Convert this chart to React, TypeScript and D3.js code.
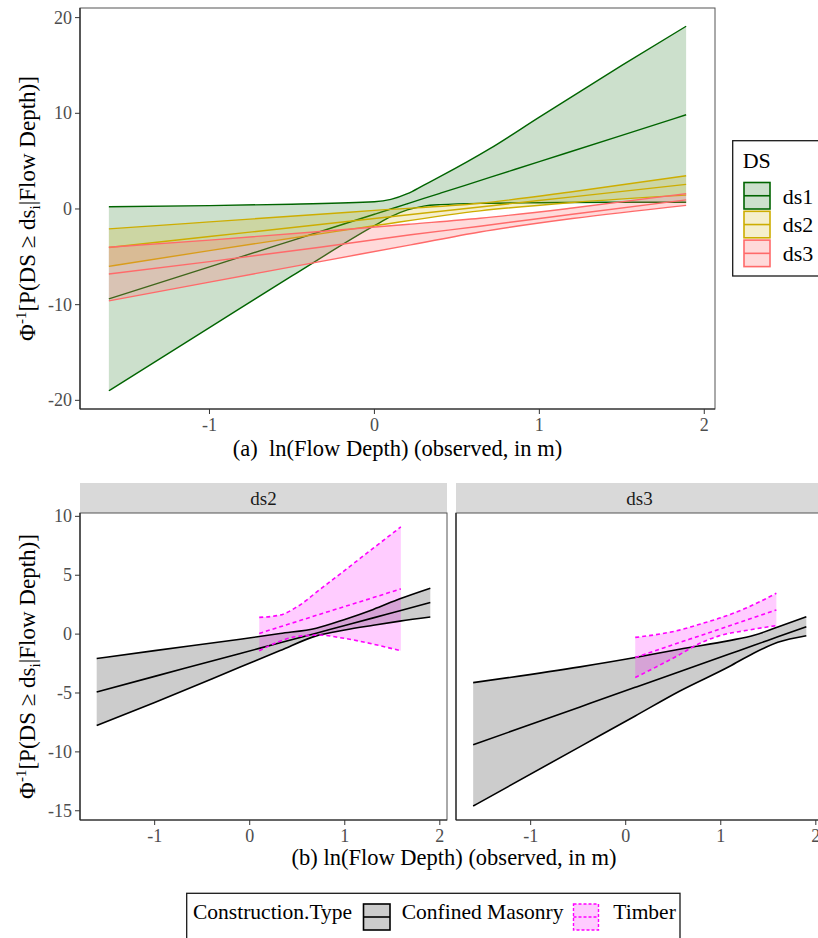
import React from 'react';
import * as d3 from 'd3';

const W = 818;
const H = 938;
const FONT = '"Liberation Serif","Times New Roman",Times,serif';

// ---------- (a) top panel: DS bands ----------
const dsNames = ['ds1', 'ds2', 'ds3'];
const dsColors = ['#006400', '#CDAD00', '#FF6A6A'];
const dsFillOpacity = [0.2, 0.2, 0.25];

const ds1X = [-1.61, -1.0, -0.5, 0.0, 0.1, 0.2, 0.3, 0.4, 0.7, 1.0, 1.5, 1.89];
const ds1Hi = [0.24, 0.35, 0.5, 0.75, 1.0, 1.6, 2.5, 3.4, 6.3, 9.6, 15.0, 19.1];
const ds1Mid = [-9.4, -6.05, -3.3, -0.55, 0.0, 0.55, 1.1, 1.65, 3.3, 4.95, 7.7, 9.85];
const ds1Lo = [-19.0, -12.4, -7.0, -1.75, -0.8, -0.1, 0.3, 0.45, 0.6, 0.65, 0.7, 0.7];

const ds2X = [-1.61, -1.0, -0.33, 0.0, 0.64, 1.2, 1.89];
const ds2Hi = [-2.08, -1.35, -0.55, -0.15, 0.6, 1.8, 3.47];
const ds2Mid = [-4.03, -2.88, -1.62, -0.99, 0.21, 1.27, 2.57];
const ds2Lo = [-6.0, -4.35, -2.6, -1.75, -0.2, 0.68, 1.45];

const ds3X = [-1.61, -1.0, -0.33, 0.22, 0.64, 1.2, 1.89];
const ds3Hi = [-4.0, -3.25, -2.36, -1.58, -0.97, 0.1, 1.6];
const ds3Mid = [-6.8, -5.5, -4.0, -2.7, -1.8, -0.55, 0.95];
const ds3Lo = [-9.6, -7.65, -5.5, -3.75, -2.4, -1.0, 0.38];

const topXTicks = [-1, 0, 1, 2];
const topYTicks = [-20, -10, 0, 10, 20];

// ---------- (b) bottom panels: construction type ----------
const facetNames = ['ds2', 'ds3'];
const typeNames = ['Confined Masonry', 'Timber'];

const cm2X = [-1.61, -1.0, -0.1, 0.32, 0.7, 1.0, 1.3, 1.58, 1.9];
const cm2Hi = [-2.07, -1.4, -0.43, 0.05, 0.5, 1.25, 2.1, 3.0, 3.9];
const cm2Mid = [-4.91, -3.59, -1.64, -0.74, 0.08, 0.73, 1.38, 1.98, 2.68];
const cm2Lo = [-7.76, -5.8, -2.8, -1.4, -0.15, 0.35, 0.75, 1.1, 1.45];

const tb2X = [0.1, 0.32, 0.5, 0.74, 0.95, 1.3, 1.59];
const tb2Hi = [1.42, 1.62, 2.33, 3.8, 5.1, 7.3, 9.1];
const tb2Mid = [0.06, 0.62, 1.08, 1.69, 2.22, 3.1, 3.84];
const tb2Lo = [-1.42, -0.6, -0.2, -0.08, -0.3, -0.85, -1.42];

const cm3X = [-1.605, -0.48, 0.1, 0.565, 1.09, 1.35, 1.6, 1.9];
const cm3Hi = [-4.12, -2.78, -1.99, -1.28, -0.55, -0.1, 0.6, 1.48];
const cm3Mid = [-9.4, -6.18, -4.52, -3.19, -1.69, -0.95, -0.23, 0.63];
const cm3Lo = [-14.6, -9.55, -6.95, -4.85, -2.75, -1.6, -0.7, -0.14];

const tb3X = [0.1, 0.39, 0.565, 0.74, 0.98, 1.26, 1.585];
const tb3Hi = [-0.28, 0.05, 0.34, 0.75, 1.34, 2.19, 3.47];
const tb3Mid = [-1.99, -1.2, -0.72, -0.25, 0.4, 1.17, 2.05];
const tb3Lo = [-3.69, -2.5, -1.75, -0.94, -0.15, 0.3, 0.72];

const botXTicks = [-1, 0, 1, 2];
const botYTicks = [-15, -10, -5, 0, 5, 10];

type Band = { x: number[]; lo: number[]; mid: number[]; hi: number[] };

const topBands: Band[] = [
  { x: ds1X, lo: ds1Lo, mid: ds1Mid, hi: ds1Hi },
  { x: ds2X, lo: ds2Lo, mid: ds2Mid, hi: ds2Hi },
  { x: ds3X, lo: ds3Lo, mid: ds3Mid, hi: ds3Hi },
];
const botBands: Band[][] = [
  [
    { x: cm2X, lo: cm2Lo, mid: cm2Mid, hi: cm2Hi },
    { x: tb2X, lo: tb2Lo, mid: tb2Mid, hi: tb2Hi },
  ],
  [
    { x: cm3X, lo: cm3Lo, mid: cm3Mid, hi: cm3Hi },
    { x: tb3X, lo: tb3Lo, mid: tb3Mid, hi: tb3Hi },
  ],
];

const typeLine = ['#000000', '#FF00FF'];
const typeFill = ['#000000', '#FF00FF'];
const typeDash = [undefined, '4,3'];

function expand(lo: number, hi: number): [number, number] {
  const d = (hi - lo) * 0.05;
  return [lo - d, hi + d];
}

function bandExtentX(bs: Band[]): [number, number] {
  const all = bs.flatMap((b) => b.x);
  return [d3.min(all) as number, d3.max(all) as number];
}
function bandExtentY(bs: Band[]): [number, number] {
  const all = bs.flatMap((b) => [...b.lo, ...b.hi]);
  return [d3.min(all) as number, d3.max(all) as number];
}

const TICK = '#4D4D4D';

function BandMarks({
  b, sx, sy, stroke, fill, fillOpacity, dash, width,
}: {
  b: Band; sx: d3.ScaleLinear<number, number>; sy: d3.ScaleLinear<number, number>;
  stroke: string; fill: string; fillOpacity: number; dash?: string; width: number;
}) {
  const area = d3
    .area<number>()
    .x((_, i) => sx(b.x[i]))
    .y0((_, i) => sy(b.lo[i]))
    .y1((_, i) => sy(b.hi[i]))
    .curve(d3.curveMonotoneX);
  const line = d3
    .line<number>()
    .x((_, i) => sx(b.x[i]))
    .y((d) => sy(d))
    .curve(d3.curveMonotoneX);
  return (
    <g>
      <path d={area(b.x) || ''} fill={fill} fillOpacity={fillOpacity} stroke="none" />
      {[b.lo, b.mid, b.hi].map((arr, k) => (
        <path key={k} d={line(arr) || ''} fill="none" stroke={stroke} strokeWidth={width} strokeDasharray={dash} />
      ))}
    </g>
  );
}

function PanelFrame({ x0, x1, y0, y1, sx, sy, xTicks, yTicks, showY }: any) {
  return (
    <g>
      <rect x={x0} y={y0} width={x1 - x0} height={y1 - y0} fill="none" stroke="#555" strokeWidth={1} />
      <line x1={x0} x2={x0} y1={y0} y2={y1} stroke="#222" strokeWidth={1.2} />
      <line x1={x0} x2={x1} y1={y1} y2={y1} stroke="#222" strokeWidth={1.2} />
      {xTicks.map((t: number) => (
        <g key={'x' + t}>
          <line x1={sx(t)} x2={sx(t)} y1={y1} y2={y1 + 5} stroke="#333" strokeWidth={1} />
          <text x={sx(t)} y={y1 + 22} textAnchor="middle" fontSize={18} fill={TICK} fontFamily={FONT}>
            {t < 0 ? '-' + Math.abs(t) : String(t)}
          </text>
        </g>
      ))}
      {showY &&
        yTicks.map((t: number) => (
          <g key={'y' + t}>
            <line x1={x0 - 5} x2={x0} y1={sy(t)} y2={sy(t)} stroke="#333" strokeWidth={1} />
            <text x={x0 - 8} y={sy(t) + 6} textAnchor="end" fontSize={18} fill={TICK} fontFamily={FONT}>
              {t < 0 ? '-' + Math.abs(t) : String(t)}
            </text>
          </g>
        ))}
    </g>
  );
}

function YTitle({ cx, cy }: { cx: number; cy: number }) {
  return (
    <text transform={`translate(${cx},${cy}) rotate(-90)`} textAnchor="middle" fontSize={23} fill="#000" fontFamily={FONT}>
      <tspan>Φ</tspan>
      <tspan fontSize={15} dy={-9}>-1</tspan>
      <tspan dy={9}>[P(DS ≥ ds</tspan>
      <tspan fontSize={15} dy={5}>i</tspan>
      <tspan dy={-5}>|Flow Depth)]</tspan>
    </text>
  );
}

export default function App() {
  // top scales
  const tPX0 = 80, tPX1 = 715, tPY0 = 8, tPY1 = 409;
  const tx = bandExtentX(topBands);
  const ty = bandExtentY(topBands);
  const sxTop = d3.scaleLinear().domain(expand(tx[0], tx[1])).range([tPX0, tPX1]);
  const syTop = d3.scaleLinear().domain(expand(ty[0], ty[1])).range([tPY1, tPY0]);

  // bottom scales
  const bPY0 = 513, bPY1 = 820;
  const panelsX = [
    [80, 447],
    [456, 823],
  ];
  const allBot = botBands.flat();
  const bx = bandExtentX(allBot);
  const by = bandExtentY(allBot);
  const syBot = d3.scaleLinear().domain(expand(by[0], by[1])).range([bPY1, bPY0]);

  return (
    <div style={{ position: 'absolute', left: 0, top: 0 }}>
      <svg width={W} height={H} viewBox={`0 0 ${W} ${H}`} style={{ display: 'block', background: '#fff' }}>
        <rect x={0} y={0} width={W} height={H} fill="#fff" />
        {/* ===== top panel ===== */}
        <rect x={tPX0} y={tPY0} width={tPX1 - tPX0} height={tPY1 - tPY0} fill="#fff" />
        {topBands.map((b, i) => (
          <BandMarks key={i} b={b} sx={sxTop} sy={syTop} stroke={dsColors[i]} fill={dsColors[i]} fillOpacity={dsFillOpacity[i]} width={1.4} />
        ))}
        <PanelFrame x0={tPX0} x1={tPX1} y0={tPY0} y1={tPY1} sx={sxTop} sy={syTop} xTicks={topXTicks} yTicks={topYTicks} showY />
        <text x={(tPX0 + tPX1) / 2} y={456} textAnchor="middle" fontSize={22.5} fontFamily={FONT} style={{ whiteSpace: 'pre' }}>
          {'(a)  ln(Flow Depth) (observed, in m)'}
        </text>
        <YTitle cx={35} cy={(tPY0 + tPY1) / 2} />

        {/* top legend */}
        <rect x={732.7} y={140.7} width={100} height={135.3} fill="#fff" stroke="#1a1a1a" strokeWidth={1.3} />
        <text x={742.7} y={168} fontSize={22} fontFamily={FONT}>DS</text>
        {dsNames.map((n, i) => {
          const ky = 182.5 + i * 28.8;
          return (
            <g key={n}>
              <rect x={744} y={ky} width={26} height={26.5} fill={dsColors[i]} fillOpacity={dsFillOpacity[i]} stroke={dsColors[i]} strokeWidth={1.6} />
              <line x1={744} x2={770} y1={ky + 13.25} y2={ky + 13.25} stroke={dsColors[i]} strokeWidth={1.6} />
              <text x={782.7} y={ky + 21} fontSize={22} fontFamily={FONT}>{n}</text>
            </g>
          );
        })}

        {/* ===== bottom facets ===== */}
        {facetNames.map((fname, f) => {
          const [x0, x1] = panelsX[f];
          const sx = d3.scaleLinear().domain(expand(bx[0], bx[1])).range([x0, x1]);
          return (
            <g key={fname}>
              <rect x={x0} y={483} width={x1 - x0} height={30} fill="#D9D9D9" />
              <text x={(x0 + x1) / 2} y={504.5} textAnchor="middle" fontSize={19} fill="#1a1a1a" fontFamily={FONT}>{fname}</text>
              <rect x={x0} y={bPY0} width={x1 - x0} height={bPY1 - bPY0} fill="#fff" />
              {botBands[f].map((b, k) => (
                <path
                  key={'a' + k}
                  d={
                    d3
                      .area<number>()
                      .x((_, i) => sx(b.x[i]))
                      .y0((_, i) => syBot(b.lo[i]))
                      .y1((_, i) => syBot(b.hi[i]))
                      .curve(d3.curveMonotoneX)(b.x) || ''
                  }
                  fill={typeFill[k]}
                  fillOpacity={0.2}
                />
              ))}
              {botBands[f].map((b, k) =>
                [b.lo, b.mid, b.hi].map((arr, j) => (
                  <path
                    key={'l' + k + j}
                    d={
                      d3
                        .line<number>()
                        .x((_, i) => sx(b.x[i]))
                        .y((d) => syBot(d))
                        .curve(d3.curveMonotoneX)(arr) || ''
                    }
                    fill="none"
                    stroke={typeLine[k]}
                    strokeWidth={1.6}
                    strokeDasharray={typeDash[k]}
                  />
                ))
              )}
              <PanelFrame x0={x0} x1={x1} y0={bPY0} y1={bPY1} sx={sx} sy={syBot} xTicks={botXTicks} yTicks={botYTicks} showY={f === 0} />
            </g>
          );
        })}
        <text x={454} y={865} textAnchor="middle" fontSize={22.5} fontFamily={FONT}>
          (b) ln(Flow Depth) (observed, in m)
        </text>
        <YTitle cx={35} cy={(bPY0 + bPY1) / 2} />

        {/* bottom legend */}
        <rect x={186.7} y={893.3} width={493.3} height={70} fill="#fff" stroke="#1a1a1a" strokeWidth={1.3} />
        <text x={193} y={919} fontSize={21.5} fontFamily={FONT}>Construction.Type</text>
        <rect x={363.5} y={904} width={26.5} height={26} fill={typeFill[0]} fillOpacity={0.2} stroke="#000" strokeWidth={1.6} />
        <line x1={363.5} x2={390} y1={917} y2={917} stroke="#000" strokeWidth={1.6} />
        <text x={401.7} y={919} fontSize={21.5} fontFamily={FONT}>{typeNames[0]}</text>
        <rect x={573.5} y={904} width={25} height={26} fill={typeFill[1]} fillOpacity={0.2} stroke="#FF00FF" strokeWidth={1.4} strokeDasharray="3,2" />
        <line x1={573.5} x2={598.5} y1={917} y2={917} stroke="#FF00FF" strokeWidth={1.4} strokeDasharray="3,2" />
        <text x={613.3} y={919} fontSize={21.5} fontFamily={FONT}>{typeNames[1]}</text>
      </svg>
    </div>
  );
}
